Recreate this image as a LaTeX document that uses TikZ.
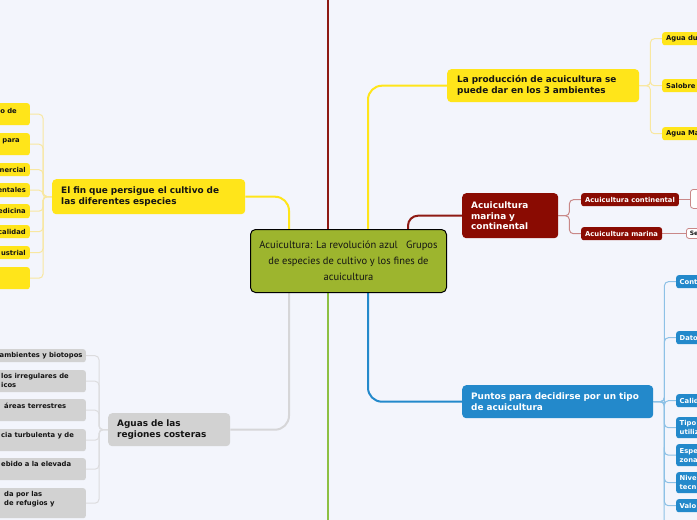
\documentclass[tikz,border=0pt]{standalone}
\usepackage{fontspec}
\setmainfont{DejaVu Sans}
\newfontfamily\handfont{PT Sans}
\usetikzlibrary{backgrounds,calc}
\definecolor{bgc}{HTML}{F3F5FC}
\definecolor{yel}{HTML}{FFE51A}
\definecolor{yelthin}{HTML}{F8E7A0}
\definecolor{redbox}{HTML}{8A0B02}
\definecolor{redline}{HTML}{8E1A14}
\definecolor{redthin}{HTML}{C98888}
\definecolor{bluebox}{HTML}{2389CB}
\definecolor{bluethin}{HTML}{8DC1E6}
\definecolor{graybox}{HTML}{D2D2D2}
\definecolor{graythin}{HTML}{DCDCDE}
\definecolor{grayline}{HTML}{D6D6D8}
\definecolor{greenline}{HTML}{8DC043}
\definecolor{olivebox}{HTML}{9DB52E}
\definecolor{txt}{HTML}{141414}
\tikzset{
  bigbox/.style={rounded corners=4pt, align=left, inner xsep=9pt, inner ysep=0pt, anchor=north west, font=\bfseries\fontsize{8.9}{10.8}\selectfont},
  smallbox/.style={rounded corners=2.5pt, inner xsep=4pt, inner ysep=0pt, minimum height=13pt, font=\bfseries\fontsize{6.8}{8.8}\selectfont},
  cliptxt/.style={inner sep=0pt, font=\bfseries\fontsize{6.8}{8.8}\selectfont, text=txt, align=left},
  trunk/.style={line width=2pt},
  twig/.style={line width=1pt, rounded corners=4pt},
}
\begin{document}
\begin{tikzpicture}[x=1pt,y=-1pt]
\useasboundingbox (0,0) rectangle (697,520);
\clip (0,0) rectangle (697,520);
\begin{scope}[on background layer]
  \fill[bgc] (0,0) rectangle (697,520);
\end{scope}

% central node
\node[draw=black, line width=1pt, fill=olivebox, rounded corners=5pt, minimum width=196pt, minimum height=63pt, anchor=north west, align=center, inner sep=0pt, text=txt, font=\handfont\fontsize{10.5}{16}\selectfont] (center) at (250,229)
  {Acuicultura: La revolución azul\ \ \ Grupos\\de especies de cultivo y los fines de\\acuicultura};

% main branches
\node[bigbox, fill=yel, text=txt, text width=175pt, minimum height=35pt] (elfin) at (52,179)
  {El fin que persigue el cultivo de\\las diferentes especies};
\node[bigbox, fill=yel, text=txt, inner xsep=10pt, text width=172pt, minimum height=33pt] (prod) at (447,69)
  {La producción de acuicultura se\\puede dar en los 3 ambientes};
\node[bigbox, fill=redbox, text=white, text width=78pt, minimum height=45pt] (marina) at (462,193)
  {Acuicultura\\marina y\\continental};
\node[bigbox, fill=bluebox, text=white, text width=173pt, minimum height=33pt] (puntos) at (462,385)
  {Puntos para decidirse por un tipo\\de acuicultura};
\node[bigbox, fill=graybox, text=txt, text width=104pt, minimum height=33pt] (aguas) at (108,413)
  {Aguas de las\\regiones costeras};

% left yellow children
\node[smallbox, fill=yel, minimum width=60pt, minimum height=22pt, anchor=north east] (y1) at (30,103) {};
\node[smallbox, fill=yel, minimum width=60pt, minimum height=22pt, anchor=north east] (y2) at (30,133) {};
\node[smallbox, fill=yel, minimum width=60pt, minimum height=13pt, anchor=north east] (y3) at (30,163) {};
\node[smallbox, fill=yel, minimum width=60pt, minimum height=14pt, anchor=north east] (y4) at (30,183) {};
\node[smallbox, fill=yel, minimum width=60pt, minimum height=14pt, anchor=north east] (y5) at (30,204) {};
\node[smallbox, fill=yel, minimum width=60pt, minimum height=13pt, anchor=north east] (y6) at (30,225) {};
\node[smallbox, fill=yel, minimum width=60pt, minimum height=13pt, anchor=north east] (y7) at (30,246) {};
\node[smallbox, fill=yel, minimum width=60pt, minimum height=22pt, anchor=north east] (y8) at (30,267) {};
\node[cliptxt, anchor=east] (y1t) at (17,111) {o de};
\node[cliptxt, anchor=east] (y2t) at (20,141) {para};
\node[cliptxt, anchor=east] (y3t) at (26,169.5) {nercial};
\node[cliptxt, anchor=east] (y4t) at (26,190) {entales};
\node[cliptxt, anchor=east] (y5t) at (26,211) {edicina};
\node[cliptxt, anchor=east] (y6t) at (26,231.5) {calidad};
\node[cliptxt, anchor=east] (y7t) at (26,252.5) {ustrial};

% left gray children
\node[smallbox, fill=graybox, minimum width=100pt, minimum height=13pt, anchor=north east] (g1) at (86,349) {};
\node[smallbox, fill=graybox, minimum width=100pt, minimum height=22pt, anchor=north east] (g2) at (86,370) {};
\node[smallbox, fill=graybox, minimum width=100pt, minimum height=22pt, anchor=north east] (g3) at (86,399) {};
\node[smallbox, fill=graybox, minimum width=100pt, minimum height=22pt, anchor=north east] (g4) at (86,429) {};
\node[smallbox, fill=graybox, minimum width=100pt, minimum height=22pt, anchor=north east] (g5) at (86,458) {};
\node[smallbox, fill=graybox, minimum width=100pt, minimum height=30pt, anchor=north east] (g6) at (86,488) {};
\node[cliptxt, anchor=west] (g1t) at (-0.5,355.5) {ambientes y biotopos};
\node[cliptxt, anchor=north west] (g2t) at (1,373.5) {los irregulares de\\icos};
\node[cliptxt, anchor=north west] (g3t) at (4,402.5) {áreas terrestres};
\node[cliptxt, anchor=north west] (g4t) at (1,432.5) {cia turbulenta y de};
\node[cliptxt, anchor=north west] (g5t) at (1,461.5) {ebido a la elevada};
\node[cliptxt, anchor=north west] (g6t) at (4,491.5) {da por las\\de refugios y};

% right yellow children
\node[smallbox, fill=yel, text=txt, anchor=north west, text width=40pt, align=left] (a1) at (662,32) {Agua du};
\node[smallbox, fill=yel, text=txt, anchor=north west, text width=40pt, align=left] (a2) at (662,79) {Salobre};
\node[smallbox, fill=yel, text=txt, anchor=north west, text width=40pt, align=left] (a3) at (662,127) {Agua Ma};

% red children
\node[smallbox, fill=redbox, text=white, anchor=north west] (cont) at (581,193) {Acuicultura continental};
\node[smallbox, fill=redbox, text=white, anchor=north west] (mar) at (581,227) {Acuicultura marina};
\node[draw=redthin, line width=0.8pt, fill=white, rounded corners=3pt, minimum width=30pt, minimum height=19pt, anchor=north west] (wcont) at (690,189) {};
\node[draw=redthin, line width=0.8pt, fill=white, rounded corners=2.5pt, text=txt, anchor=north west, minimum height=10pt, text width=20pt, align=left, inner xsep=3.5pt, inner ysep=0pt, font=\bfseries\fontsize{6}{7}\selectfont] (se) at (686,228) {Se};

% blue children
\tikzset{bluekid/.style={smallbox, fill=bluebox, text=white, anchor=north west, text width=40pt, align=left, inner xsep=3.5pt}}
\node[bluekid] (b1) at (676,275) {Cont};
\node[bluekid] (b2) at (676,331) {Dato};
\node[bluekid] (b3) at (676,394) {Calid};
\node[bluekid, minimum height=21pt] (b4) at (676,417) {Tipo\\utiliz};
\node[bluekid, minimum height=22pt] (b5) at (676,444) {Espe\\zona};
\node[bluekid, minimum height=21pt] (b6) at (676,472) {Nive\\tecn};
\node[bluekid] (b7) at (676,499) {Valo};

\coordinate (rtop) at (328,0);
\coordinate (gbot) at (328,520);
\coordinate (bbot) at (664,520);

\begin{scope}[on background layer]
  % trunks
  \draw[trunk, redline] (center.north west) ++(78,0) -- (rtop);
  \draw[trunk, greenline] (center.south west) ++(78,0) -- (gbot);
  \draw[trunk, yel, rounded corners=14pt] (center.north west) ++(39,0) |- (elfin.east);
  \draw[trunk, yel, rounded corners=14pt] (center.north west) ++(118,0) |- (prod.west);
  \draw[trunk, redline, rounded corners=10pt] (center.north west) ++(158,0) |- (marina.west);
  \draw[trunk, bluebox, rounded corners=14pt] (center.south west) ++(118,0) |- (puntos.west);
  \draw[trunk, grayline, rounded corners=14pt] (center.south west) ++(39,0) |- (aguas.east);
  % twigs
  \foreach \n in {y1,y2,y3,y4,y5,y6,y7,y8}
    \draw[twig, yelthin] (elfin.west) -- ++(-9,0) |- (\n.east);
  \foreach \n in {g1,g2,g3,g4,g5,g6}
    \draw[twig, graythin] (aguas.west) -- ++(-9,0) |- (\n.east);
  \foreach \n in {a1,a2,a3}
    \draw[twig, yelthin] (prod.east) -- ++(11,0) |- (\n.west);
  \foreach \n in {cont,mar}
    \draw[twig, redthin] (marina.east) -- ++(11,0) |- (\n.west);
  \draw[twig, redthin] (cont.east) -- (cont.east -| wcont.west);
  \draw[twig, redthin] (mar.east) -- (mar.east -| se.west);
  \foreach \n in {b1,b2,b3,b4,b5,b6,b7}
    \draw[twig, bluethin] (puntos.east) -- ++(11,0) |- (\n.west);
  \draw[twig, bluethin] (puntos.east) ++(11,0) -- (bbot);
\end{scope}
\end{tikzpicture}
\end{document}
